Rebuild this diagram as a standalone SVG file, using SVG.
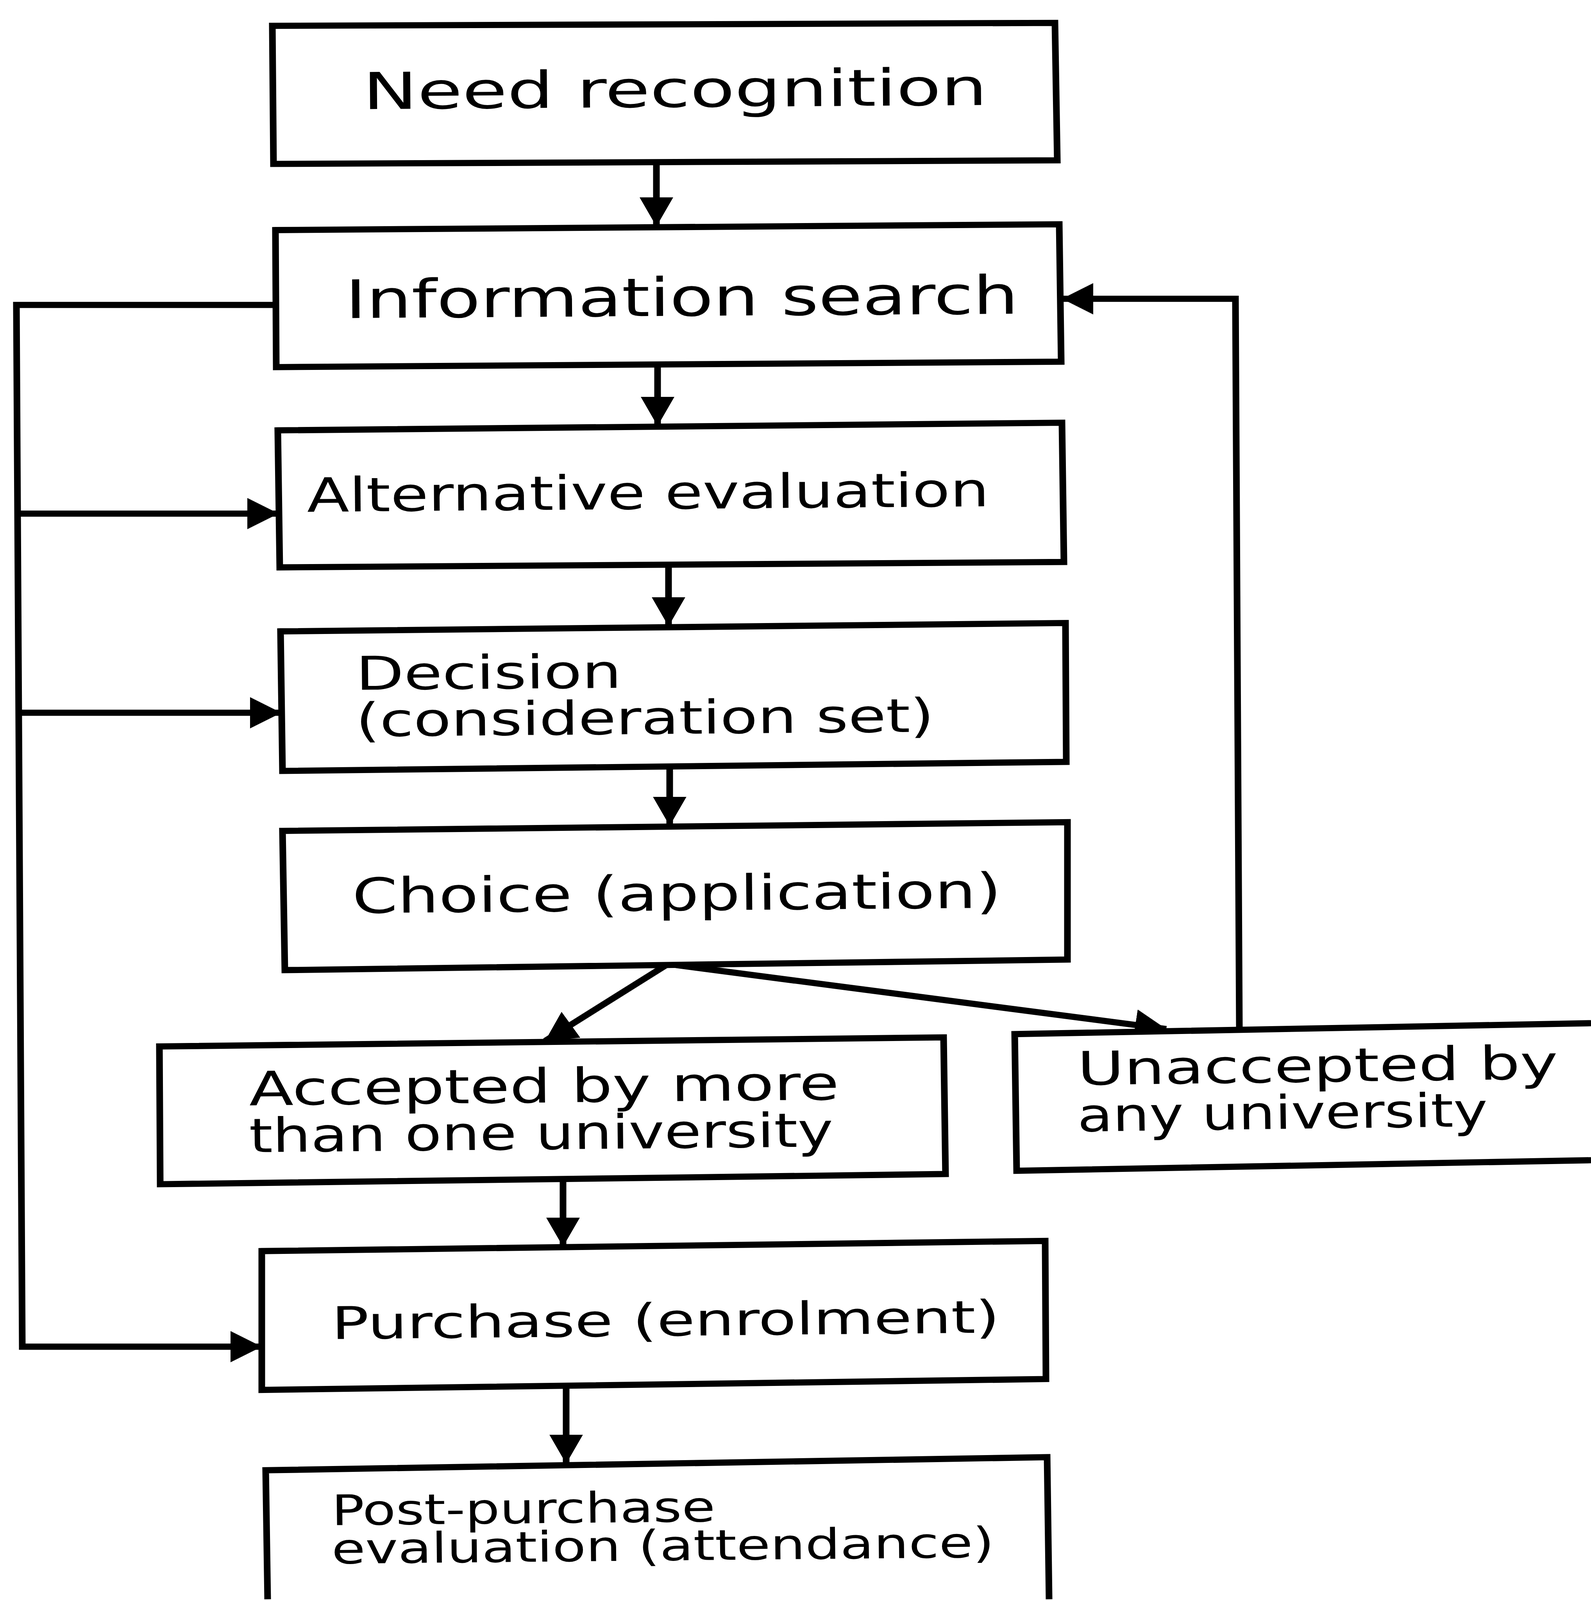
<svg xmlns="http://www.w3.org/2000/svg" width="4072" height="4400" viewBox="0 0 4072 4400">
<style>
.box{fill:#fff;stroke:#000;stroke-width:17;stroke-linejoin:miter}
.lbl{font-family:"DejaVu Sans","Liberation Sans",sans-serif;fill:#000}
.con{fill:none;stroke:#000;stroke-width:17;stroke-linejoin:miter}
</style>
<defs>
<marker id="ah" viewBox="0 0 80 86" refX="80" refY="43" markerWidth="80" markerHeight="86" markerUnits="userSpaceOnUse" orient="auto">
<path d="M0,0 L80,43 L0,86 Z" fill="#000"/>
</marker>
</defs>
<rect width="4072" height="4400" fill="#fff"/>
<g id="diagram" transform="matrix(1 0 0 0.9305 0 0)">
<g id="connectors">
<path class="con" d="M1680,446 V623" marker-end="url(#ah)"/>
<path class="con" d="M1683,1003 V1172" marker-end="url(#ah)"/>
<path class="con" d="M1711,1553 V1723" marker-end="url(#ah)"/>
<path class="con" d="M1714,2108 V2272" marker-end="url(#ah)"/>
<path class="con" d="M1705,2655 L1395,2864" marker-end="url(#ah)"/>
<path class="con" d="M1730,2655 L2985,2831" marker-end="url(#ah)"/>
<path class="con" d="M3172,2826 L3162,822 L2718,822" marker-end="url(#ah)"/>
<path class="con" d="M705,839 L42,839 L57,3705 L670,3705" marker-end="url(#ah)"/>
<path class="con" d="M45,1413 L713,1413" marker-end="url(#ah)"/>
<path class="con" d="M48,1961 L720,1961" marker-end="url(#ah)"/>
<path class="con" d="M1441,3244 V3430" marker-end="url(#ah)"/>
<path class="con" d="M1449,3809 V4027" marker-end="url(#ah)"/>
</g>
<g id="need">
<polygon class="box" points="697,71 2700,63 2706,441 700,451"/>
<text class="lbl" x="929" y="300" font-size="140" textLength="1598" lengthAdjust="spacingAndGlyphs" transform="rotate(-0.4 929 300)">Need recognition</text>
</g>
<g id="info">
<polygon class="box" points="705,633 2711,617 2716,995 707,1010"/>
<text class="lbl" x="884" y="875" font-size="146" textLength="1723" lengthAdjust="spacingAndGlyphs" transform="rotate(-0.4 884 875)">Information search</text>
</g>
<g id="alt">
<polygon class="box" points="711,1184 2718,1163 2723,1546 716,1561"/>
<text class="lbl" x="786" y="1408" font-size="130" textLength="1746" lengthAdjust="spacingAndGlyphs" transform="rotate(-0.5 786 1408)">Alternative evaluation</text>
</g>
<g id="decision">
<polygon class="box" points="718,1737 2727,1714 2729,2096 723,2121"/>
<text class="lbl" x="911" y="1898" font-size="128" textLength="680" lengthAdjust="spacingAndGlyphs" transform="rotate(-0.5 911 1898)">Decision</text>
<text class="lbl" x="911" y="2026" font-size="128" textLength="1480" lengthAdjust="spacingAndGlyphs" transform="rotate(-0.5 911 2026)">(consideration set)</text>
</g>
<g id="choice">
<polygon class="box" points="723,2286 2732,2262 2732,2640 729,2669"/>
<text class="lbl" x="902" y="2512" font-size="134" textLength="1661" lengthAdjust="spacingAndGlyphs" transform="rotate(-0.5 902 2512)">Choice (application)</text>
</g>
<g id="accepted">
<polygon class="box" points="408,2879 2415,2854 2420,3230 410,3258"/>
<text class="lbl" x="638" y="3041" font-size="130" textLength="1510" lengthAdjust="spacingAndGlyphs" transform="rotate(-0.6 638 3041)">Accepted by more</text>
<text class="lbl" x="638" y="3170" font-size="130" textLength="1495" lengthAdjust="spacingAndGlyphs" transform="rotate(-0.6 638 3170)">than one university</text>
</g>
<g id="unaccepted">
<path class="box" d="M4072,2815 L2597,2845 L2602,3221 L4072,3192"/>
<text class="lbl" x="2758" y="2985" font-size="128" textLength="1230" lengthAdjust="spacingAndGlyphs" transform="rotate(-0.8 2758 2985)">Unaccepted by</text>
<text class="lbl" x="2758" y="3113" font-size="128" textLength="1050" lengthAdjust="spacingAndGlyphs" transform="rotate(-0.8 2758 3113)">any university</text>
</g>
<g id="purchase">
<polygon class="box" points="670,3442 2675,3414 2677,3794 670,3824"/>
<text class="lbl" x="849" y="3684" font-size="124" textLength="1710" lengthAdjust="spacingAndGlyphs" transform="rotate(-0.6 849 3684)">Purchase (enrolment)</text>
</g>
<g id="post">
<path class="box" d="M685,4400 L680,4045 L2680,4009 L2685,4400"/>
<text class="lbl" x="849" y="4196" font-size="116" textLength="982" lengthAdjust="spacingAndGlyphs" transform="rotate(-0.6 849 4196)">Post-purchase</text>
<text class="lbl" x="849" y="4302" font-size="116" textLength="1696" lengthAdjust="spacingAndGlyphs" transform="rotate(-0.6 849 4302)">evaluation (attendance)</text>
</g>
</g>
</svg>
